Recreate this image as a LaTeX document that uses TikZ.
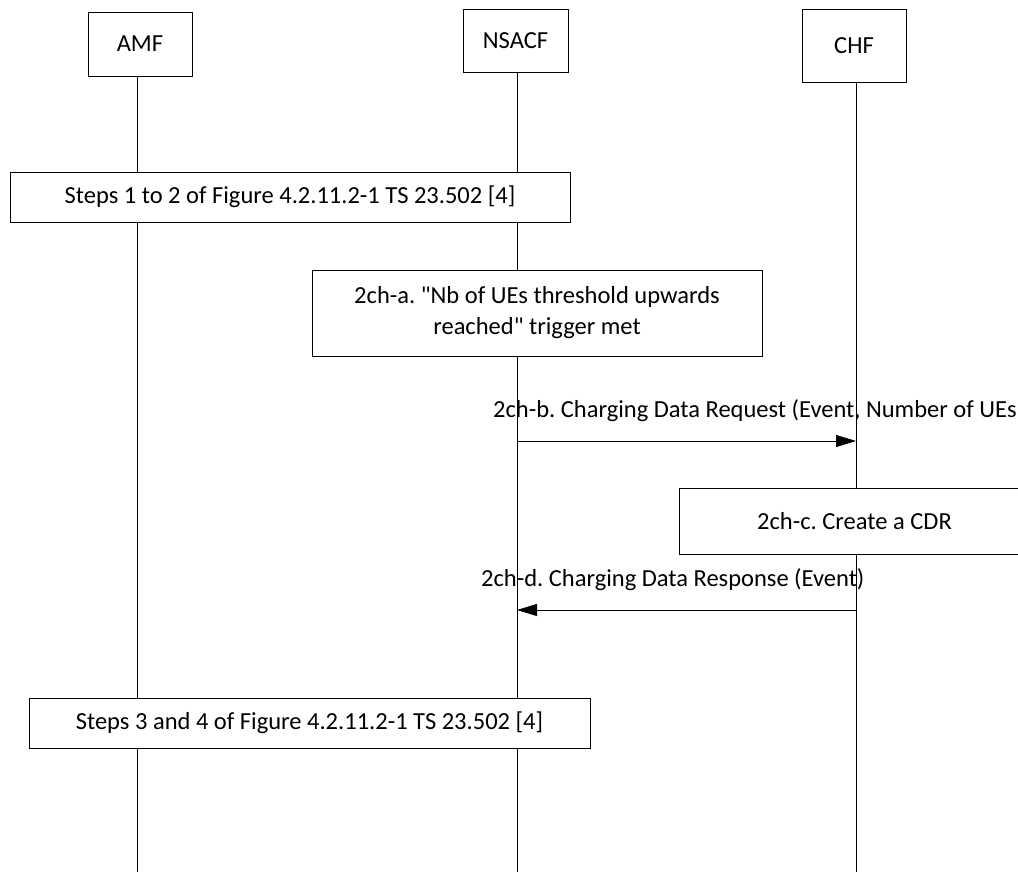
\documentclass[tikz,border=0pt]{standalone}
\usepackage{fontspec}
\setmainfont{Carlito}
\usetikzlibrary{arrows.meta}
\begin{document}
\frenchspacing
\begin{tikzpicture}[x=1pt,y=-1pt,
  every node/.style={font=\fontsize{24.5}{31}\selectfont, inner sep=0pt},
  entity/.style={draw, fill=white, line width=0.9pt},
  stepbox/.style={draw, fill=white, line width=0.9pt, align=center},
  life/.style={line width=0.9pt},
  msg/.style={line width=0.9pt, -{Triangle[length=20pt,width=12pt]}},
  lbl/.style={anchor=base west}]
\useasboundingbox (0,0) rectangle (1018,872);
% lifeline ends
\coordinate (amfEnd) at (137,872);
\coordinate (nsacfEnd) at (517,872);
\coordinate (chfEnd) at (856,872);
% entities
\node[entity, minimum width=104pt, minimum height=64pt] (amf) at (140,44) {AMF};
\node[entity, minimum width=105pt, minimum height=63pt] (nsacf) at (515.5,40.5) {NSACF};
\node[entity, minimum width=104pt, minimum height=73pt] (chf) at (854,45.5) {CHF};
% lifelines
\draw[life] (amf.south -| amfEnd) -- (amfEnd);
\draw[life] (nsacf.south -| nsacfEnd) -- (nsacfEnd);
\draw[life] (chf.south -| chfEnd) -- (chfEnd);
% steps
\node[stepbox, minimum width=560pt, minimum height=50pt] (s12) at (290,197) {Steps 1 to 2 of Figure 4.2.11.2-1 TS 23.502 [4]};
\node[stepbox, minimum width=450pt, minimum height=86pt] (s2a) at (537,313) {2ch-a. \textquotedbl Nb of UEs threshold upwards\\reached\textquotedbl\ trigger met};
\node[stepbox, minimum width=351pt, minimum height=66pt] (s2c) at (854.5,521) {2ch-c. Create a CDR};
\node[stepbox, minimum width=561pt, minimum height=50pt] (s34) at (309.5,723) {Steps 3 and 4 of Figure 4.2.11.2-1 TS 23.502 [4]};
% messages
\coordinate (b1) at (517,441);
\coordinate (b2) at (856,441);
\draw[msg] (b1) -- (b2);
\node[lbl] (lb) at (493,417) {2ch-b. Charging Data Request (Event, Number of UEs};
\coordinate (d1) at (856,610);
\coordinate (d2) at (517,610);
\draw[msg] (d1) -- (d2);
\node[lbl] (ld) at (481,586) {2ch-d. Charging Data Response (Event)};
\end{tikzpicture}
\end{document}
